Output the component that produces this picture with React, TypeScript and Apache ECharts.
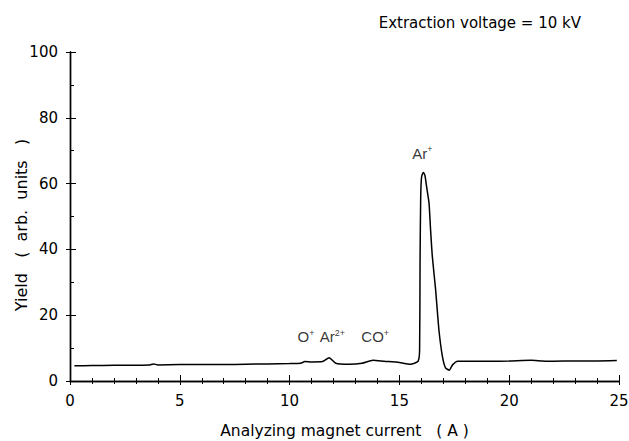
import React, { useEffect, useRef } from "react";
import * as echarts from "echarts";

const currentA = [0.2, 1, 2, 3, 3.6, 3.8, 4.0, 5, 6, 7, 8, 9, 10, 10.5, 10.7, 11.0, 11.5, 11.8, 12.1, 12.7, 13.3, 13.8, 14.3, 15.0, 15.5, 15.85, 15.92, 15.94, 15.97, 16.01, 16.09, 16.16, 16.24, 16.35, 16.42, 16.5, 16.65, 16.8, 16.96, 17.1, 17.27, 17.42, 17.65, 18, 19, 20, 21, 21.5, 22, 23, 24, 24.9];
const yieldArb = [4.6, 4.7, 4.75, 4.8, 4.85, 5.2, 4.9, 5.0, 5.0, 5.0, 5.1, 5.2, 5.3, 5.4, 5.9, 5.8, 5.9, 7.1, 5.4, 5.1, 5.4, 6.3, 6.0, 5.6, 5.1, 6.0, 9.4, 35.9, 56, 62, 63.4, 62.6, 59, 54, 45.9, 37.8, 27.7, 15.5, 7.4, 4.0, 3.3, 4.9, 6.0, 6.0, 6.0, 6.1, 6.3, 6.1, 6.0, 6.1, 6.1, 6.2];

const peakNames = ["O", "Ar", "CO", "Ar"];
const peakCharges = ["+", "2+", "+", "+"];
const peakX = [10.75, 11.95, 13.9, 16.05];
const peakY = [13.4, 13.4, 13.4, 69.3];

const xTicks = [0, 5, 10, 15, 20, 25];
const yTicks = [0, 20, 40, 60, 80, 100];

const FONT = "'DejaVu Sans', sans-serif";
const LFONT = "'Liberation Sans', Arial, Helvetica, sans-serif";

export default function App() {
  const ref = useRef<HTMLDivElement>(null);
  useEffect(() => {
    if (!ref.current) return;
    const chart = echarts.init(ref.current, null, { renderer: "svg" });
    const lineData = currentA.map((x, i) => [x, yieldArb[i]]);
    const labelData = peakX.map((x, i) => ({
      value: [x, peakY[i]],
      name: `{b|${peakNames[i]}}{s|${peakCharges[i]}}`,
    }));
    const axisCommon = {
      axisLine: { show: true, lineStyle: { color: "#000", width: 1.4 } },
      splitLine: { show: false },
    };
    chart.setOption({
      animation: false,
      backgroundColor: "#fff",
      title: {
        text: "Extraction voltage = 10 kV",
        right: 43,
        top: 10,
        textStyle: { fontFamily: FONT, fontSize: 15, fontWeight: "normal", color: "#000" },
      },
      grid: { left: 70, right: 10, top: 52, bottom: 60, containLabel: false, outerBoundsMode: "none" },
      xAxis: [
        {
          type: "value",
          min: xTicks[0],
          max: xTicks[xTicks.length - 1],
          interval: 5,
          ...axisCommon,
          axisTick: { show: true, inside: true, length: 6, lineStyle: { color: "#000" } },
          minorTick: { show: true, splitNumber: 5, length: 3, lineStyle: { color: "#000" } },
          axisLabel: { fontFamily: FONT, fontSize: 15, color: "#000", margin: 12 },
          name: "Analyzing magnet current   ( A )",
          nameLocation: "middle",
          nameGap: 42,
          nameTextStyle: { fontFamily: FONT, fontSize: 15.5, color: "#000" },
        },
        {
          type: "value",
          position: "top",
          min: 0,
          max: 25,
          interval: 5,
          ...axisCommon,
          axisTick: { show: true, inside: true, length: 4, lineStyle: { color: "#000" } },
          minorTick: { show: true, splitNumber: 5, length: 3, lineStyle: { color: "#000" } },
          axisLabel: { show: false },
        },
      ],
      yAxis: [
        {
          type: "value",
          min: yTicks[0],
          max: yTicks[yTicks.length - 1],
          interval: 20,
          ...axisCommon,
          axisTick: { show: true, inside: true, length: 6, lineStyle: { color: "#000" } },
          minorTick: { show: true, splitNumber: 2, length: 4, lineStyle: { color: "#000" } },
          axisLabel: { fontFamily: FONT, fontSize: 15, color: "#000", margin: 12 },
          name: "Yield   (  arb.  units   )",
          nameLocation: "middle",
          nameGap: 41,
          nameMoveOverlap: false,
          nameTextStyle: { fontFamily: FONT, fontSize: 16, color: "#000", padding: [0, 17, 0, 0] },
        },
        {
          type: "value",
          position: "right",
          min: 0,
          max: 100,
          interval: 20,
          ...axisCommon,
          axisTick: { show: true, inside: true, length: 4, lineStyle: { color: "#000" } },
          minorTick: { show: false },
          axisLabel: { show: false },
        },
      ],
      series: [
        {
          type: "line",
          data: lineData,
          showSymbol: false,
          smooth: 0.2,
          lineStyle: { color: "#000", width: 1.5 },
          silent: true,
        },
        {
          type: "scatter",
          data: labelData,
          symbolSize: 0,
          silent: true,
          label: {
            show: true,
            position: "inside",
            formatter: (p: any) => p.name,
            rich: {
              b: { fontFamily: LFONT, fontSize: 15, color: "#000", lineHeight: 17 },
              s: { fontFamily: LFONT, fontSize: 9, color: "#000", verticalAlign: "top", lineHeight: 17 },
            },
          },
        },
      ],
    });
    return () => chart.dispose();
  }, []);
  return (
    <div
      ref={ref}
      style={{ position: "fixed", left: 0, top: 0, width: 629, height: 441, background: "#fff" }}
    />
  );
}
